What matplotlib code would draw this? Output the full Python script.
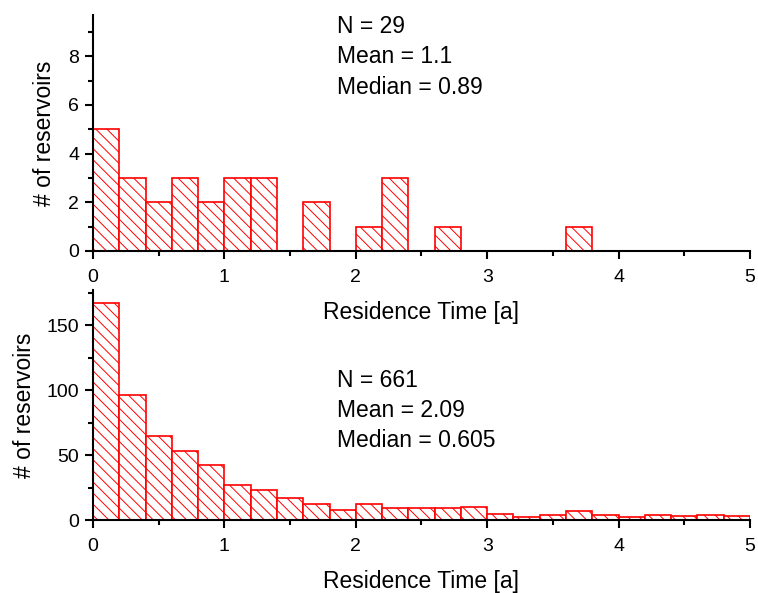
import numpy as np
import matplotlib
matplotlib.use("Agg")
import matplotlib.pyplot as plt
from matplotlib.ticker import MultipleLocator

plt.rcParams['font.family'] = ['Liberation Sans', 'DejaVu Sans']
plt.rcParams['hatch.linewidth'] = 0.7

# bin left edges, width 0.2 years
bin_edges = np.arange(0, 5.0, 0.2)
bin_width = 0.2

counts_top = [5, 3, 2, 3, 2, 3, 3, 0, 2, 0, 1, 3, 0, 1, 0, 0, 0, 0, 1, 0, 0, 0, 0, 0, 0]
counts_bottom = [167, 96, 65, 53, 42, 27, 23, 17, 12, 8, 12, 9, 9, 9, 10, 5, 2, 4, 7, 4, 2, 4, 3, 4, 3]

stats_top = ["N = 29", "Mean = 1.1", "Median = 0.89"]
stats_bottom = ["N = 661", "Mean = 2.09", "Median = 0.605"]

xlabel = "Residence Time [a]"
ylabel = "# of reservoirs"

fig = plt.figure(figsize=(7.58, 5.93), dpi=100)
ax_top = fig.add_axes([0.1227, 0.577, 0.8667, 0.398])
ax_bot = fig.add_axes([0.1227, 0.123, 0.8667, 0.388])
ax_bot.patch.set_visible(False)   # let the upper x label show through


def style_axis(ax, ymax, ymajor, yminor, ylab_x):
    ax.set_xlim(0, 5)
    ax.set_ylim(0, ymax)
    ax.spines['top'].set_visible(False)
    ax.spines['right'].set_visible(False)
    ax.spines['left'].set_linewidth(1.5)
    ax.spines['bottom'].set_linewidth(1.5)
    ax.xaxis.set_major_locator(MultipleLocator(1))
    ax.xaxis.set_minor_locator(MultipleLocator(0.5))
    ax.yaxis.set_major_locator(MultipleLocator(ymajor))
    ax.yaxis.set_minor_locator(MultipleLocator(yminor))
    ax.tick_params(which='major', direction='out', length=6, width=1.5, labelsize=14)
    ax.tick_params(axis='x', which='major', pad=7)
    ax.tick_params(axis='y', which='major', pad=4)
    ax.tick_params(which='minor', direction='out', length=3.5, width=1.5)
    ax.set_xlabel(xlabel, fontsize=16.5, labelpad=11)
    ax.set_ylabel(ylabel, fontsize=16.5)
    ax.yaxis.set_label_coords(ylab_x, 0.5)


for ax, counts in [(ax_top, counts_top), (ax_bot, counts_bottom)]:
    ax.bar(bin_edges, counts, width=bin_width, align='edge', color='white',
           edgecolor='red', hatch='\\\\\\', linewidth=1.2, zorder=2)

style_axis(ax_top, 9.7, 2, 1, -0.056)
style_axis(ax_bot, 177, 50, 25, -0.087)

for i, s in enumerate(stats_top):
    ax_top.text(0.371, 0.95 - i * 0.128, s, transform=ax_top.transAxes,
                fontsize=16.5, va='center', ha='left')
for i, s in enumerate(stats_bottom):
    ax_bot.text(0.371, 0.605 - i * 0.13, s, transform=ax_bot.transAxes,
                fontsize=16.5, va='center', ha='left')

fig.savefig("out.png", dpi=100)
